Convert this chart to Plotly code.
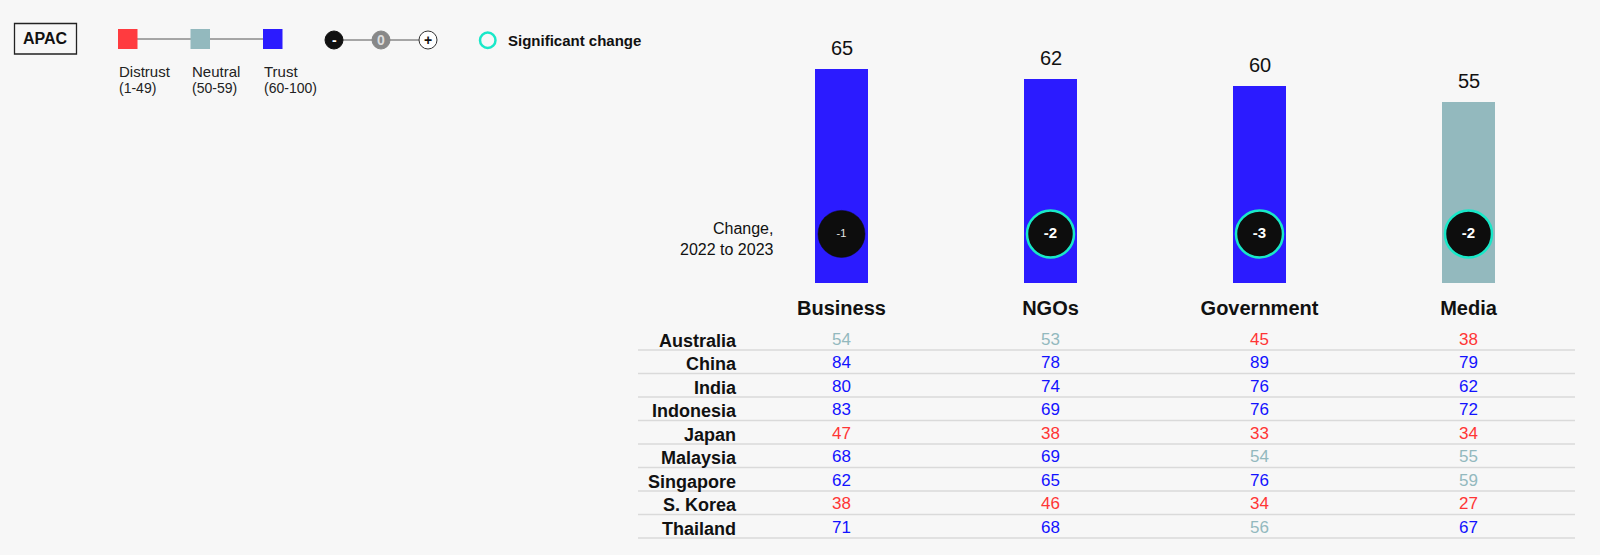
import plotly.graph_objects as go

W, H = 1600, 555

# ---------------- data ----------------
categories = ["Business", "NGOs", "Government", "Media"]
trust_index = [65, 62, 60, 55]
change_2022_2023 = [-1, -2, -3, -2]
significant = [False, True, True, True]

countries = ["Australia", "China", "India", "Indonesia", "Japan",
             "Malaysia", "Singapore", "S. Korea", "Thailand"]
business = [54, 84, 80, 83, 47, 68, 62, 38, 71]
ngos = [53, 78, 74, 69, 38, 69, 65, 46, 68]
government = [45, 89, 76, 76, 33, 54, 76, 34, 56]
media = [38, 79, 62, 72, 34, 55, 59, 27, 67]
table_columns = [business, ngos, government, media]

# ---------------- styles ----------------
RED = "#FF3B3F"
NEUTRAL = "#93B9BE"
BLUE = "#2B1BFF"
TXT_RED = "#FF3535"
TXT_NEUTRAL = "#93B9BE"
TXT_BLUE = "#1212FF"
TEAL = "#19E8C8"
BG = "#F7F7F7"
FONT = "Liberation Sans, Arial, sans-serif"
BADGE_Y = 15  # vertical position of change badges (axis units)


def px_x(p):
    return p / W


def px_y(p):
    return 1 - p / H


def bar_color(v):
    return RED if v < 50 else (NEUTRAL if v < 60 else BLUE)


def txt_color(v):
    return TXT_RED if v < 50 else (TXT_NEUTRAL if v < 60 else TXT_BLUE)


fig = go.Figure()

# bars
fig.add_trace(go.Bar(
    x=categories, y=trust_index, width=0.254,
    marker=dict(color=[bar_color(v) for v in trust_index], line=dict(width=0)),
    xaxis="x", yaxis="y", hoverinfo="skip", showlegend=False,
))

# change badges
fig.add_trace(go.Scatter(
    x=categories, y=[BADGE_Y] * len(categories), mode="markers+text",
    marker=dict(size=47, color="#0D0D0D",
                line=dict(color=[TEAL if s else "#0D0D0D" for s in significant],
                          width=[2.5 if s else 0.5 for s in significant])),
    text=[f"<b>{c}</b>" if s else str(c) for c, s in zip(change_2022_2023, significant)],
    textposition="middle center",
    textfont=dict(family=FONT, color=["white" if s else "#E6E6E6" for s in significant],
                  size=[15 if s else 11 for s in significant]),
    xaxis="x", yaxis="y", hoverinfo="skip", showlegend=False, cliponaxis=False,
))

# table values
tx, ty, tt, tc = [], [], [], []
for cat, col in zip(categories, table_columns):
    for ctry, v in zip(countries, col):
        tx.append(cat)
        ty.append(ctry)
        tt.append(str(v))
        tc.append(txt_color(v))
fig.add_trace(go.Scatter(
    x=tx, y=ty, mode="text", text=tt, textposition="middle center",
    textfont=dict(family=FONT, size=17, color=tc),
    xaxis="x", yaxis="y2", hoverinfo="skip", showlegend=False, cliponaxis=False,
))

annotations = []
# values above bars
for cat, v in zip(categories, trust_index):
    annotations.append(dict(x=cat, y=v, xref="x", yref="y", text=str(v),
                            showarrow=False, xanchor="center", yanchor="middle", yshift=21,
                            font=dict(family=FONT, size=20, color="#111111")))

annotations.append(dict(x=px_x(776), y=px_y(238.5), xref="paper", yref="paper",
                        text="Change,<br>2022 to 2023", showarrow=False,
                        xanchor="right", yanchor="middle", align="right",
                        font=dict(family=FONT, size=16, color="#111111")))

shapes = []
# table separator lines
for i in range(len(countries)):
    shapes.append(dict(type="line", xref="paper", yref="y2",
                       x0=px_x(638), x1=px_x(1575), y0=i + 0.41, y1=i + 0.41,
                       line=dict(color="#DADADA", width=1.5), layer="below"))

# ---------------- legend ----------------
shapes.append(dict(type="rect", xref="paper", yref="paper",
                   x0=px_x(14.5), x1=px_x(76.5), y0=px_y(54), y1=px_y(23.5),
                   line=dict(color="#222222", width=1.3), fillcolor="rgba(0,0,0,0)"))
annotations.append(dict(x=px_x(45.5), y=px_y(39), xref="paper", yref="paper",
                        text="<b>APAC</b>", showarrow=False,
                        xanchor="center", yanchor="middle",
                        font=dict(family=FONT, size=16, color="#111111")))

shapes.append(dict(type="line", xref="paper", yref="paper",
                   x0=px_x(128), x1=px_x(273), y0=px_y(39), y1=px_y(39),
                   line=dict(color="#555555", width=1)))
legend_sq = [(118, RED, "Distrust", "(1-49)"),
             (190.5, NEUTRAL, "Neutral", "(50-59)"),
             (263, BLUE, "Trust", "(60-100)")]
for x0, col, lab, rng in legend_sq:
    shapes.append(dict(type="rect", xref="paper", yref="paper",
                       x0=px_x(x0), x1=px_x(x0 + 19.5), y0=px_y(49), y1=px_y(29),
                       line=dict(width=0), fillcolor=col))
    annotations.append(dict(x=px_x(x0 - 1), y=px_y(71), xref="paper", yref="paper",
                            text=lab, showarrow=False, xanchor="left", yanchor="middle",
                            font=dict(family=FONT, size=15, color="#222222")))
    annotations.append(dict(x=px_x(x0 - 1), y=px_y(88), xref="paper", yref="paper",
                            text=rng, showarrow=False, xanchor="left", yanchor="middle",
                            font=dict(family=FONT, size=14, color="#222222")))

shapes.append(dict(type="line", xref="paper", yref="paper",
                   x0=px_x(334), x1=px_x(428), y0=px_y(40), y1=px_y(40),
                   line=dict(color="#555555", width=1)))
chg = [(334, "#111111", "#111111", "<b>-</b>", "white"),
       (381, "#888888", "#888888", "<b>0</b>", "#DDDDDD"),
       (428, "white", "#333333", "<b>+</b>", "#111111")]
for cx, fill, edge, sym, scol in chg:
    shapes.append(dict(type="circle", xref="paper", yref="paper",
                       x0=px_x(cx - 9), x1=px_x(cx + 9), y0=px_y(49), y1=px_y(31),
                       line=dict(color=edge, width=1), fillcolor=fill))
    annotations.append(dict(x=px_x(cx), y=px_y(40), xref="paper", yref="paper",
                            text=sym, showarrow=False,
                            xanchor="center", yanchor="middle",
                            font=dict(family=FONT, size=14, color=scol)))

shapes.append(dict(type="circle", xref="paper", yref="paper",
                   x0=px_x(480), x1=px_x(495.5), y0=px_y(48), y1=px_y(32.5),
                   line=dict(color=TEAL, width=2.5), fillcolor="rgba(0,0,0,0)"))
annotations.append(dict(x=px_x(505.5), y=px_y(40.5), xref="paper", yref="paper",
                        text="<b>Significant change</b>", showarrow=False,
                        xanchor="left", yanchor="middle",
                        font=dict(family=FONT, size=15, color="#111111")))

# ---------------- layout ----------------
y_top_px, y_zero_px, px_per_unit = 40, 283.3, 3.292
row0_px, row_step = 340.5, 23.475
t_top, t_bot = 320, 545

fig.update_layout(
    width=W, height=H,
    margin=dict(l=0, r=0, t=0, b=0),
    paper_bgcolor=BG, plot_bgcolor=BG,
    font=dict(family=FONT, color="#111111"),
    xaxis=dict(domain=[px_x(638), px_x(1575)], type="category",
               categoryorder="array", categoryarray=categories,
               range=[(638 - 841.5) / 209, (1575 - 841.5) / 209],
               showgrid=False, zeroline=False, showline=False, ticks="",
               tickfont=dict(family=FONT, size=20, color="#111111", weight="bold"),
               ticklabelstandoff=11, anchor="y", fixedrange=True),
    yaxis=dict(domain=[px_y(y_zero_px), px_y(y_top_px)],
               range=[0, (y_zero_px - y_top_px) / px_per_unit],
               visible=False, fixedrange=True),
    yaxis2=dict(domain=[px_y(t_bot), px_y(t_top)], type="category",
                categoryorder="array", categoryarray=countries,
                range=[(t_bot - row0_px) / row_step, (t_top - row0_px) / row_step],
                anchor="free", position=px_x(736),
                showgrid=False, zeroline=False, showline=False, ticks="",
                tickfont=dict(family=FONT, size=18, color="#111111", weight="bold"),
                fixedrange=True),
    shapes=shapes,
    annotations=annotations,
    bargap=0,
)

fig.write_html("out.html")
